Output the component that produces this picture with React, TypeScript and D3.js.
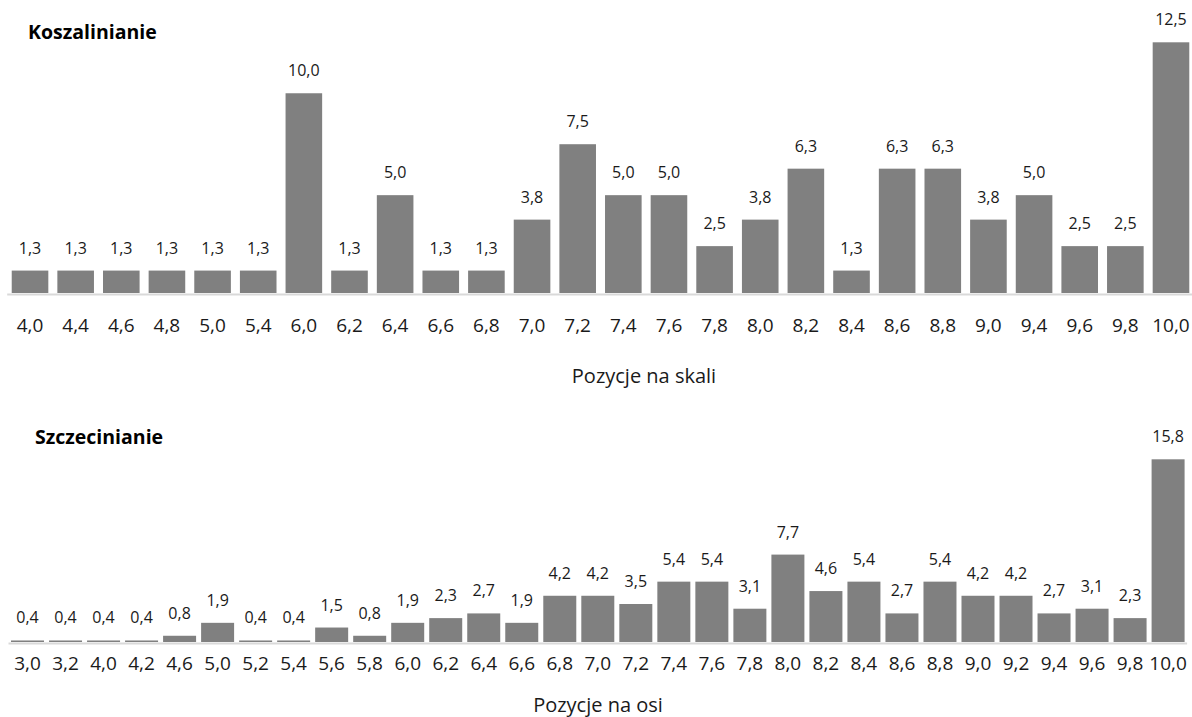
import React from "react";
import * as d3 from "d3";

const kosCategories = ["4,0","4,4","4,6","4,8","5,0","5,4","6,0","6,2","6,4","6,6","6,8","7,0","7,2","7,4","7,6","7,8","8,0","8,2","8,4","8,6","8,8","9,0","9,4","9,6","9,8","10,0"];
const kosValues = [1.3,1.3,1.3,1.3,1.3,1.3,10.0,1.3,5.0,1.3,1.3,3.8,7.5,5.0,5.0,2.5,3.8,6.3,1.3,6.3,6.3,3.8,5.0,2.5,2.5,12.5];

const szcCategories = ["3,0","3,2","4,0","4,2","4,6","5,0","5,2","5,4","5,6","5,8","6,0","6,2","6,4","6,6","6,8","7,0","7,2","7,4","7,6","7,8","8,0","8,2","8,4","8,6","8,8","9,0","9,2","9,4","9,6","9,8","10,0"];
const szcValues = [0.4,0.4,0.4,0.4,0.8,1.9,0.4,0.4,1.5,0.8,1.9,2.3,2.7,1.9,4.2,4.2,3.5,5.4,5.4,3.1,7.7,4.6,5.4,2.7,5.4,4.2,4.2,2.7,3.1,2.3,15.8];

const FONT = "'Open Sans', 'Noto Sans', sans-serif";
const BAR = "#808080";
const AXIS = "#d9d9d9";
const TXT = "#1a1a1a";
const fmt = (v: number) => v.toFixed(1).replace(".", ",");

type PanelProps = {
  title: string;
  titleX: number;
  titleY: number;
  cats: string[];
  vals: number[];
  xRange: [number, number];
  pad: number;
  yDomain: [number, number];
  yRange: [number, number];
  axisY: number;
  tickY: number;
  axisTitle: string;
  axisTitleX: number;
  axisTitleY: number;
};

function Panel(p: PanelProps) {
  const x = d3.scaleBand<string>().domain(p.cats).range(p.xRange).paddingInner(p.pad).paddingOuter(p.pad / 2);
  const y = d3.scaleLinear().domain(p.yDomain).range(p.yRange);
  const base = p.yRange[0];
  return (
    <g>
      <text x={p.titleX} y={p.titleY} fontFamily={FONT} fontWeight="bold" fontSize={19.5} fill="#000">{p.title}</text>
      {p.vals.map((v, i) => {
        const c = p.cats[i];
        const top = y(v);
        return (
          <g key={c + i}>
            <rect x={x(c)} y={top} width={x.bandwidth()} height={Math.max(0.8, base - top)} fill={BAR} />
            <text x={(x(c) as number) + x.bandwidth() / 2} y={top - 17} textAnchor="middle" fontFamily={FONT} fontSize={16} fill={TXT}>{fmt(v)}</text>
          </g>
        );
      })}
      <line x1={p.xRange[0]} x2={Math.min(1192, p.xRange[1])} y1={p.axisY} y2={p.axisY} stroke={AXIS} strokeWidth={2} />
      {p.cats.map((c) => (
        <text key={c} x={(x(c) as number) + x.bandwidth() / 2} y={p.tickY} textAnchor="middle" fontFamily={FONT} fontSize={19} fill={TXT}>{c}</text>
      ))}
      <text x={p.axisTitleX} y={p.axisTitleY} textAnchor="middle" fontFamily={FONT} fontSize={20} fill={TXT}>{p.axisTitle}</text>
    </g>
  );
}

export default function App() {
  return (
    <svg width={1192} height={717} style={{ position: "absolute", left: 0, top: 0, background: "#fff" }}>
      <rect width={1192} height={717} fill="#fff" />
      <Panel
        title="Koszalinianie" titleX={28} titleY={39}
        cats={kosCategories} vals={kosValues}
        xRange={[7.2, 1193.8]} pad={0.198}
        yDomain={[0.2, 12.5]} yRange={[293, 42.3]}
        axisY={294.5} tickY={332}
        axisTitle="Pozycje na skali" axisTitleX={644} axisTitleY={383}
      />
      <Panel
        title="Szczecinianie" titleX={35} titleY={444}
        cats={szcCategories} vals={szcValues}
        xRange={[8.5, 1187.1]} pad={0.132}
        yDomain={[0.27, 15.8]} yRange={[642, 459.3]}
        axisY={643.5} tickY={670}
        axisTitle="Pozycje na osi" axisTitleX={598} axisTitleY={712}
      />
    </svg>
  );
}
